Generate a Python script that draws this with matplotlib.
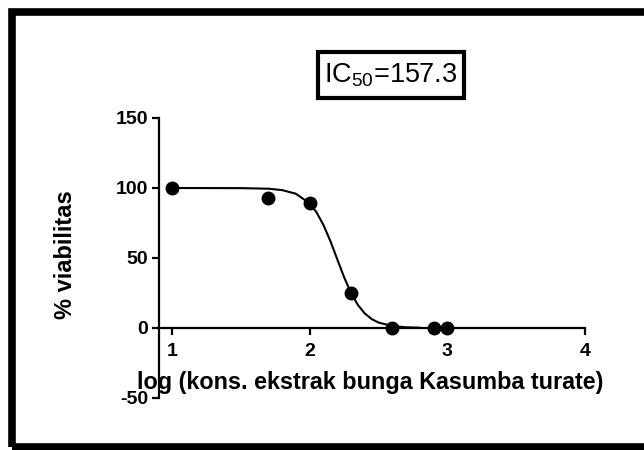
import matplotlib
matplotlib.use("Agg")
import matplotlib.pyplot as plt
from matplotlib.patches import Rectangle

plt.rcParams['font.family'] = ['Liberation Sans', 'DejaVu Sans']
plt.rcParams['mathtext.fontset'] = 'custom'
plt.rcParams['mathtext.rm'] = 'Liberation Sans'
plt.rcParams['mathtext.it'] = 'Liberation Sans'
plt.rcParams['axes.unicode_minus'] = False

# measured points: log concentration vs % viability
log_conc = [1.0, 1.70, 2.0, 2.30, 2.60, 2.90, 3.0]
viability = [100, 92.6, 89.5, 24.8, 0, 0, 0]

# fitted curve
curve_x = [1.0, 1.5, 1.7, 1.8, 1.9, 2.0, 2.05, 2.1, 2.15, 2.2, 2.25,
           2.3, 2.35, 2.4, 2.45, 2.5, 2.6, 2.7, 2.8]
curve_y = [100, 99.9, 99.5, 98.5, 95.9, 89.0, 82.6, 73.6, 62.2, 49.2, 36.3,
           25.1, 16.5, 10.4, 6.4, 3.9, 1.4, 0.5, 0.2]

x_ticks = [1, 2, 3, 4]
y_ticks = [-50, 0, 50, 100, 150]
ic50_label = r'IC$_{50}$=157.3'

fig = plt.figure(figsize=(6.44, 4.5), dpi=100)
ax = fig.add_axes([159 / 644, 52 / 450, 426 / 644, 280 / 450])

ax.plot(curve_x, curve_y, color='black', lw=1.5, zorder=3)
ax.plot(log_conc, viability, 'o', color='black', ms=9, zorder=4, clip_on=False)

ax.set_xlim(1 - 13 / 137.67, 4)
ax.set_ylim(-50, 150)
ax.set_xticks(x_ticks)
ax.set_yticks(y_ticks)

ax.spines['top'].set_visible(False)
ax.spines['right'].set_visible(False)
ax.spines['bottom'].set_position(('data', 0))
for s in ['left', 'bottom']:
    ax.spines[s].set_linewidth(1.6)
ax.tick_params(width=1.6, length=5, labelsize=14, direction='out')
ax.tick_params(axis='y', pad=3)
ax.tick_params(axis='x', pad=6)
for lab in ax.get_xticklabels() + ax.get_yticklabels():
    lab.set_fontweight('bold')

fig.text(370.5 / 644, 1 - 389 / 450, 'log (kons. ekstrak bunga Kasumba turate)',
         ha='center', va='baseline', fontsize=16.8, fontweight='bold')
fig.text(65 / 644, 1 - 255 / 450, '% viabilitas', rotation=90,
         ha='center', va='center', fontsize=17, fontweight='bold')

# IC50 box
fig.patches.append(Rectangle((318 / 644, 1 - 98 / 450), 146 / 644, 46 / 450,
                             transform=fig.transFigure, fill=False,
                             edgecolor='black', lw=3))
fig.text(391 / 644, 1 - 75 / 450, ic50_label, ha='center', va='center',
         fontsize=19.5)

# thick frame around the figure (right side runs off the image)
fig.patches.append(Rectangle((12 / 644, 3 / 450), 700 / 644, 435 / 450,
                             transform=fig.transFigure, fill=False,
                             edgecolor='black', lw=5.5))

fig.savefig('out.png', dpi=100)
